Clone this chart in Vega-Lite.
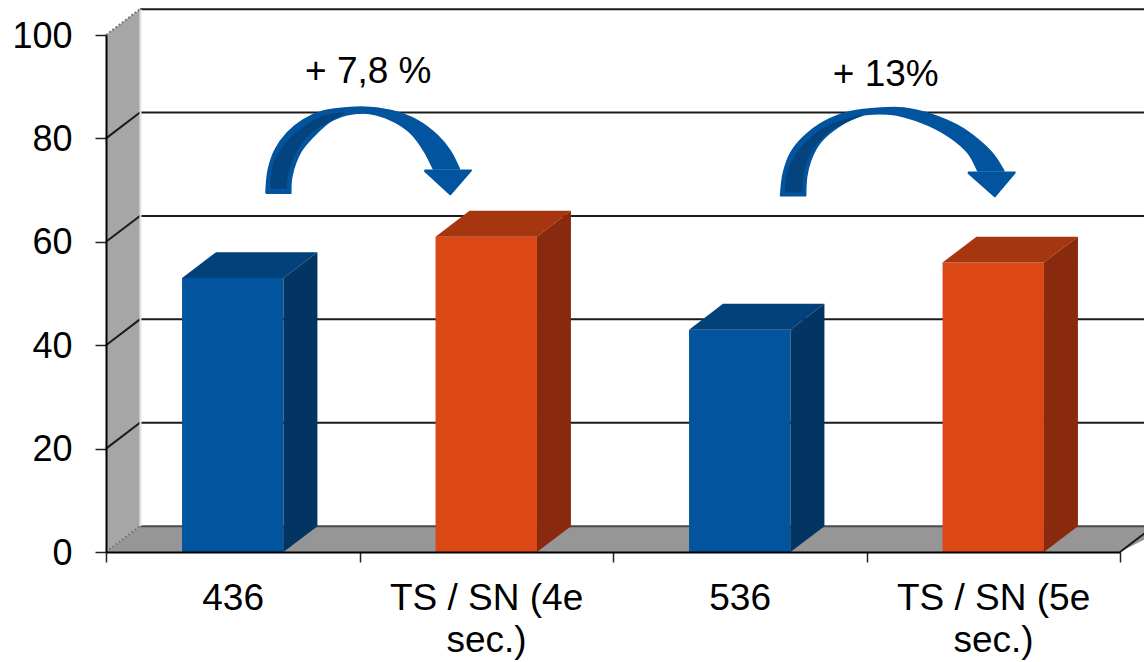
{"$schema":"https://vega.github.io/schema/vega-lite/v6.json","width":1014,"height":517,"autosize":{"type":"none"},"padding":{"left":106,"top":35,"right":24,"bottom":110},"background":"white","config":{"view":{"stroke":null},"font":"Liberation Sans"},
"datasets":{
"bars":[{"label":"436","series":"436","start":0.3,"end":0.7,"value":53,"base":0},{"label":"TS / SN (4e sec.)","series":"TS / SN","start":1.3,"end":1.7,"value":61,"base":0},{"label":"536","series":"536","start":2.3,"end":2.7,"value":43,"base":0},{"label":"TS / SN (5e sec.)","series":"TS / SN","start":3.3,"end":3.7,"value":56,"base":0}],
"walls":[{"shape":"wall","face":"wall","ord":1,"x":0,"y":0},{"shape":"wall","face":"wall","ord":2,"x":0,"y":100},{"shape":"wall","face":"wall","ord":3,"x":0.134,"y":105},{"shape":"wall","face":"wall","ord":4,"x":0.134,"y":5},{"shape":"floor","face":"floor","ord":1,"x":0,"y":0},{"shape":"floor","face":"floor","ord":2,"x":0.134,"y":5},{"shape":"floor","face":"floor","ord":3,"x":4.2,"y":5},{"shape":"floor","face":"floor","ord":4,"x":4,"y":0}],
"lines":[
{"line":"g20","kind":"grid","ord":1,"x":0,"y":20},{"line":"g20","kind":"grid","ord":2,"x":0.134,"y":25},{"line":"g20","kind":"grid","ord":3,"x":4.2,"y":25},
{"line":"g40","kind":"grid","ord":1,"x":0,"y":40},{"line":"g40","kind":"grid","ord":2,"x":0.134,"y":45},{"line":"g40","kind":"grid","ord":3,"x":4.2,"y":45},
{"line":"g60","kind":"grid","ord":1,"x":0,"y":60},{"line":"g60","kind":"grid","ord":2,"x":0.134,"y":65},{"line":"g60","kind":"grid","ord":3,"x":4.2,"y":65},
{"line":"g80","kind":"grid","ord":1,"x":0,"y":80},{"line":"g80","kind":"grid","ord":2,"x":0.134,"y":85},{"line":"g80","kind":"grid","ord":3,"x":4.2,"y":85},
{"line":"g100","kind":"grid","ord":1,"x":0.134,"y":105},{"line":"g100","kind":"grid","ord":2,"x":4.2,"y":105},
{"line":"edge","kind":"grid","ord":1,"x":4,"y":0},{"line":"edge","kind":"grid","ord":2,"x":4.134,"y":5},
{"line":"back","kind":"back","ord":1,"x":0.134,"y":5},{"line":"back","kind":"back","ord":2,"x":4.2,"y":5},
{"line":"corner","kind":"corner","ord":1,"x":0.136,"y":5},{"line":"corner","kind":"corner","ord":2,"x":0.136,"y":105}],
"dots":[{"line":"d0","ord":1,"x":0,"y":0},{"line":"d0","ord":2,"x":0.134,"y":5},{"line":"d100","ord":1,"x":0,"y":100},{"line":"d100","ord":2,"x":0.134,"y":105}],
"faces":[
{"shape":"b1t","face":"blueTop","ord":1,"x":0.3,"y":53},{"shape":"b1t","face":"blueTop","ord":2,"x":0.434,"y":58},{"shape":"b1t","face":"blueTop","ord":3,"x":0.834,"y":58},{"shape":"b1t","face":"blueTop","ord":4,"x":0.7,"y":53},
{"shape":"b1s","face":"blueSide","ord":1,"x":0.7,"y":53},{"shape":"b1s","face":"blueSide","ord":2,"x":0.834,"y":58},{"shape":"b1s","face":"blueSide","ord":3,"x":0.834,"y":5},{"shape":"b1s","face":"blueSide","ord":4,"x":0.7,"y":0},
{"shape":"b2t","face":"orangeTop","ord":1,"x":1.3,"y":61},{"shape":"b2t","face":"orangeTop","ord":2,"x":1.434,"y":66},{"shape":"b2t","face":"orangeTop","ord":3,"x":1.834,"y":66},{"shape":"b2t","face":"orangeTop","ord":4,"x":1.7,"y":61},
{"shape":"b2s","face":"orangeSide","ord":1,"x":1.7,"y":61},{"shape":"b2s","face":"orangeSide","ord":2,"x":1.834,"y":66},{"shape":"b2s","face":"orangeSide","ord":3,"x":1.834,"y":5},{"shape":"b2s","face":"orangeSide","ord":4,"x":1.7,"y":0},
{"shape":"b3t","face":"blueTop","ord":1,"x":2.3,"y":43},{"shape":"b3t","face":"blueTop","ord":2,"x":2.434,"y":48},{"shape":"b3t","face":"blueTop","ord":3,"x":2.834,"y":48},{"shape":"b3t","face":"blueTop","ord":4,"x":2.7,"y":43},
{"shape":"b3s","face":"blueSide","ord":1,"x":2.7,"y":43},{"shape":"b3s","face":"blueSide","ord":2,"x":2.834,"y":48},{"shape":"b3s","face":"blueSide","ord":3,"x":2.834,"y":5},{"shape":"b3s","face":"blueSide","ord":4,"x":2.7,"y":0},
{"shape":"b4t","face":"orangeTop","ord":1,"x":3.3,"y":56},{"shape":"b4t","face":"orangeTop","ord":2,"x":3.434,"y":61},{"shape":"b4t","face":"orangeTop","ord":3,"x":3.834,"y":61},{"shape":"b4t","face":"orangeTop","ord":4,"x":3.7,"y":56},
{"shape":"b4s","face":"orangeSide","ord":1,"x":3.7,"y":56},{"shape":"b4s","face":"orangeSide","ord":2,"x":3.834,"y":61},{"shape":"b4s","face":"orangeSide","ord":3,"x":3.834,"y":5},{"shape":"b4s","face":"orangeSide","ord":4,"x":3.7,"y":0}],
"heads":[
{"shape":"a1h","ord":1,"x":1.256,"y":73.8},{"shape":"a1h","ord":2,"x":1.44,"y":73.8},{"shape":"a1h","ord":3,"x":1.358,"y":69.2},{"shape":"a1h","ord":4,"x":1.256,"y":73.8},
{"shape":"a2h","ord":1,"x":3.4,"y":73.4},{"shape":"a2h","ord":2,"x":3.585,"y":73.4},{"shape":"a2h","ord":3,"x":3.506,"y":68.8},{"shape":"a2h","ord":4,"x":3.4,"y":73.4}],
"arrows":[
{"shape":"a1","face":"arrow","ord":1,"x":0.631,"y":69.4},{"shape":"a1","face":"arrow","ord":1.5,"x":0.631,"y":69.4},{"shape":"a1","face":"arrow","ord":2,"x":0.64,"y":73.9},{"shape":"a1","face":"arrow","ord":3,"x":0.667,"y":77.8},{"shape":"a1","face":"arrow","ord":4,"x":0.715,"y":81.1},{"shape":"a1","face":"arrow","ord":5,"x":0.778,"y":83.6},{"shape":"a1","face":"arrow","ord":6,"x":0.857,"y":85.3},{"shape":"a1","face":"arrow","ord":7,"x":0.963,"y":86},{"shape":"a1","face":"arrow","ord":8,"x":1.042,"y":86},{"shape":"a1","face":"arrow","ord":9,"x":1.133,"y":85.3},{"shape":"a1","face":"arrow","ord":10,"x":1.228,"y":83.5},{"shape":"a1","face":"arrow","ord":11,"x":1.307,"y":80.6},{"shape":"a1","face":"arrow","ord":12,"x":1.358,"y":77.6},{"shape":"a1","face":"arrow","ord":13,"x":1.394,"y":74.1},{"shape":"a1","face":"arrow","ord":13.5,"x":1.394,"y":74.1},{"shape":"a1","face":"arrow","ord":17,"x":1.291,"y":74.1},{"shape":"a1","face":"arrow","ord":17.5,"x":1.291,"y":74.1},{"shape":"a1","face":"arrow","ord":18,"x":1.252,"y":77.8},{"shape":"a1","face":"arrow","ord":19,"x":1.2,"y":81.1},{"shape":"a1","face":"arrow","ord":20,"x":1.121,"y":83.6},{"shape":"a1","face":"arrow","ord":21,"x":1.015,"y":84.9},{"shape":"a1","face":"arrow","ord":22,"x":0.896,"y":83.6},{"shape":"a1","face":"arrow","ord":23,"x":0.817,"y":80.3},{"shape":"a1","face":"arrow","ord":24,"x":0.766,"y":77.2},{"shape":"a1","face":"arrow","ord":25,"x":0.733,"y":72.6},{"shape":"a1","face":"arrow","ord":26,"x":0.729,"y":69.4},{"shape":"a1","face":"arrow","ord":26.5,"x":0.729,"y":69.4},{"shape":"a1","face":"arrow","ord":27,"x":0.631,"y":69.4},
{"shape":"a1d","face":"arrowDark","ord":1,"x":0.652,"y":70.4},{"shape":"a1d","face":"arrowDark","ord":1.5,"x":0.652,"y":70.4},{"shape":"a1d","face":"arrowDark","ord":2,"x":0.659,"y":74.5},{"shape":"a1d","face":"arrowDark","ord":3,"x":0.699,"y":78.4},{"shape":"a1d","face":"arrowDark","ord":4,"x":0.766,"y":81.6},{"shape":"a1d","face":"arrowDark","ord":5,"x":0.845,"y":84},{"shape":"a1d","face":"arrowDark","ord":6,"x":0.936,"y":84.9},{"shape":"a1d","face":"arrowDark","ord":6.5,"x":0.936,"y":84.9},{"shape":"a1d","face":"arrowDark","ord":7,"x":0.873,"y":83.2},{"shape":"a1d","face":"arrowDark","ord":8,"x":0.798,"y":80.7},{"shape":"a1d","face":"arrowDark","ord":9,"x":0.746,"y":77.2},{"shape":"a1d","face":"arrowDark","ord":10,"x":0.714,"y":72.6},{"shape":"a1d","face":"arrowDark","ord":11,"x":0.711,"y":70.4},{"shape":"a1d","face":"arrowDark","ord":11.5,"x":0.711,"y":70.4},{"shape":"a1d","face":"arrowDark","ord":12,"x":0.652,"y":70.4},
{"shape":"a2","face":"arrow","ord":1,"x":2.661,"y":68.9},{"shape":"a2","face":"arrow","ord":1.5,"x":2.661,"y":68.9},{"shape":"a2","face":"arrow","ord":2,"x":2.672,"y":73.3},{"shape":"a2","face":"arrow","ord":3,"x":2.701,"y":77.2},{"shape":"a2","face":"arrow","ord":4,"x":2.752,"y":80.3},{"shape":"a2","face":"arrow","ord":5,"x":2.831,"y":83.2},{"shape":"a2","face":"arrow","ord":6,"x":2.938,"y":85.2},{"shape":"a2","face":"arrow","ord":7,"x":3.056,"y":85.9},{"shape":"a2","face":"arrow","ord":8,"x":3.147,"y":85.9},{"shape":"a2","face":"arrow","ord":9,"x":3.254,"y":84.7},{"shape":"a2","face":"arrow","ord":10,"x":3.36,"y":82.5},{"shape":"a2","face":"arrow","ord":11,"x":3.439,"y":79.8},{"shape":"a2","face":"arrow","ord":12,"x":3.502,"y":76.8},{"shape":"a2","face":"arrow","ord":13,"x":3.542,"y":73.7},{"shape":"a2","face":"arrow","ord":13.5,"x":3.542,"y":73.7},{"shape":"a2","face":"arrow","ord":17,"x":3.439,"y":73.7},{"shape":"a2","face":"arrow","ord":17.5,"x":3.439,"y":73.7},{"shape":"a2","face":"arrow","ord":18,"x":3.4,"y":77.2},{"shape":"a2","face":"arrow","ord":19,"x":3.333,"y":80.1},{"shape":"a2","face":"arrow","ord":20,"x":3.242,"y":82.6},{"shape":"a2","face":"arrow","ord":21,"x":3.147,"y":84.2},{"shape":"a2","face":"arrow","ord":22,"x":3.084,"y":84.7},{"shape":"a2","face":"arrow","ord":23,"x":2.977,"y":84.4},{"shape":"a2","face":"arrow","ord":24,"x":2.887,"y":82.2},{"shape":"a2","face":"arrow","ord":25,"x":2.819,"y":79.3},{"shape":"a2","face":"arrow","ord":26,"x":2.78,"y":75.8},{"shape":"a2","face":"arrow","ord":27,"x":2.764,"y":72.6},{"shape":"a2","face":"arrow","ord":28,"x":2.76,"y":68.9},{"shape":"a2","face":"arrow","ord":28.5,"x":2.76,"y":68.9},{"shape":"a2","face":"arrow","ord":29,"x":2.661,"y":68.9},
{"shape":"a2d","face":"arrowDark","ord":1,"x":2.681,"y":69.7},{"shape":"a2d","face":"arrowDark","ord":1.5,"x":2.681,"y":69.7},{"shape":"a2d","face":"arrowDark","ord":2,"x":2.689,"y":73.3},{"shape":"a2d","face":"arrowDark","ord":3,"x":2.721,"y":76.8},{"shape":"a2d","face":"arrowDark","ord":4,"x":2.772,"y":79.7},{"shape":"a2d","face":"arrowDark","ord":5,"x":2.859,"y":82.6},{"shape":"a2d","face":"arrowDark","ord":6,"x":2.977,"y":84.4},{"shape":"a2d","face":"arrowDark","ord":6.5,"x":2.977,"y":84.4},{"shape":"a2d","face":"arrowDark","ord":7,"x":2.859,"y":81.6},{"shape":"a2d","face":"arrowDark","ord":8,"x":2.792,"y":78.4},{"shape":"a2d","face":"arrowDark","ord":9,"x":2.76,"y":75.3},{"shape":"a2d","face":"arrowDark","ord":10,"x":2.744,"y":69.7},{"shape":"a2d","face":"arrowDark","ord":10.5,"x":2.744,"y":69.7},{"shape":"a2d","face":"arrowDark","ord":11,"x":2.681,"y":69.7}],
"notes":[{"text":"+ 7,8 %","x":1.0345,"y":90.7},{"text":"+ 13%","x":3.076,"y":90.1}]},
"encoding":{"x":{"type":"quantitative","scale":{"domain":[0,4],"nice":false,"zero":false,"padding":0},"axis":{"zindex":1,"title":null,"values":[0,1,2,3,4],"grid":false,"domainColor":"#000000","domainWidth":2,"tickColor":"#222222","tickWidth":1.5,"tickSize":10,"labelColor":"#000000","labelFont":"Liberation Sans","labelFontSize":37,"labelOffset":126.6,"labelPadding":18,"labelLineHeight":42,"labelLimit":0,"labelBaseline":"top","labelAlign":"center","labelFlush":false,"labelOverlap":false,"labelBound":false,"labelExpr":"[['436'],['TS / SN (4e','sec.)'],['536'],['TS / SN (5e','sec.)'],['']][datum.value]"}},"y":{"type":"quantitative","scale":{"domain":[0,100],"nice":false,"padding":0},"axis":{"zindex":1,"title":null,"values":[0,20,40,60,80,100],"grid":false,"domainColor":"#000000","domainWidth":2,"tickColor":"#222222","tickWidth":1.5,"tickSize":11,"labelColor":"#000000","labelFont":"Liberation Sans","labelFontSize":36,"labelPadding":23,"labelOffset":1,"labelFlush":false,"labelOverlap":false,"labelBound":false}}},
"layer":[
{"data":{"name":"walls"},"mark":{"type":"line","filled":true,"clip":false,"strokeWidth":0},"encoding":{"x":{"field":"x","type":"quantitative"},"y":{"field":"y","type":"quantitative"},"detail":{"field":"shape"},"order":{"field":"ord"},"fill":{"field":"face","type":"nominal","legend":null,"scale":{"domain":["wall","floor"],"range":["#a6a6a6","#969696"]}}}},
{"data":{"name":"lines"},"mark":{"type":"line","clip":false,"strokeWidth":2},"encoding":{"x":{"field":"x","type":"quantitative"},"y":{"field":"y","type":"quantitative"},"detail":{"field":"line"},"order":{"field":"ord"},"stroke":{"field":"kind","type":"nominal","legend":null,"scale":{"domain":["grid","back","corner"],"range":["#1c1c1c","#4a4a4a","#e4e4e4"]}}}},
{"data":{"name":"dots"},"mark":{"type":"line","clip":false,"stroke":"#777777","strokeWidth":2,"strokeDash":[2,2]},"encoding":{"x":{"field":"x","type":"quantitative"},"y":{"field":"y","type":"quantitative"},"detail":{"field":"line"},"order":{"field":"ord"}}},
{"data":{"name":"bars"},"mark":{"type":"bar","clip":false},"encoding":{"x":{"field":"start","type":"quantitative"},"x2":{"field":"end"},"y":{"field":"value","type":"quantitative","stack":null},"y2":{"field":"base"},"color":{"field":"series","type":"nominal","legend":null,"scale":{"domain":["436","536","TS / SN"],"range":["#03549f","#03549f","#dc4815"]}}}},
{"data":{"name":"faces"},"mark":{"type":"line","filled":true,"clip":false,"strokeWidth":0},"encoding":{"x":{"field":"x","type":"quantitative"},"y":{"field":"y","type":"quantitative"},"detail":{"field":"shape"},"order":{"field":"ord"},"fill":{"field":"face","type":"nominal","legend":null,"scale":{"domain":["blueTop","blueSide","orangeTop","orangeSide"],"range":["#03417a","#033563","#a5360f","#89290d"]}}}},
{"data":{"name":"arrows"},"mark":{"type":"line","filled":true,"clip":false,"interpolate":"catmull-rom","strokeWidth":1.5,"strokeJoin":"round"},"encoding":{"x":{"field":"x","type":"quantitative"},"y":{"field":"y","type":"quantitative"},"detail":{"field":"shape"},"order":{"field":"ord"},"fill":{"field":"face","type":"nominal","legend":null,"scale":{"domain":["arrow","arrowDark"],"range":["#03549f","#03447f"]}},"stroke":{"field":"face","type":"nominal","legend":null,"scale":{"domain":["arrow","arrowDark"],"range":["#03549f","#03447f"]}}}},
{"data":{"name":"heads"},"mark":{"type":"line","filled":true,"clip":false,"color":"#03549f","stroke":"#03549f","strokeWidth":2,"strokeJoin":"round"},"encoding":{"x":{"field":"x","type":"quantitative"},"y":{"field":"y","type":"quantitative"},"detail":{"field":"shape"},"order":{"field":"ord"}}},
{"data":{"name":"notes"},"mark":{"type":"text","font":"Liberation Sans","fontSize":37,"baseline":"alphabetic","align":"center","color":"#000000","clip":false},"encoding":{"x":{"field":"x","type":"quantitative"},"y":{"field":"y","type":"quantitative"},"text":{"field":"text"}}}
],
"resolve":{"scale":{"color":"independent","fill":"independent","stroke":"independent"}}}
